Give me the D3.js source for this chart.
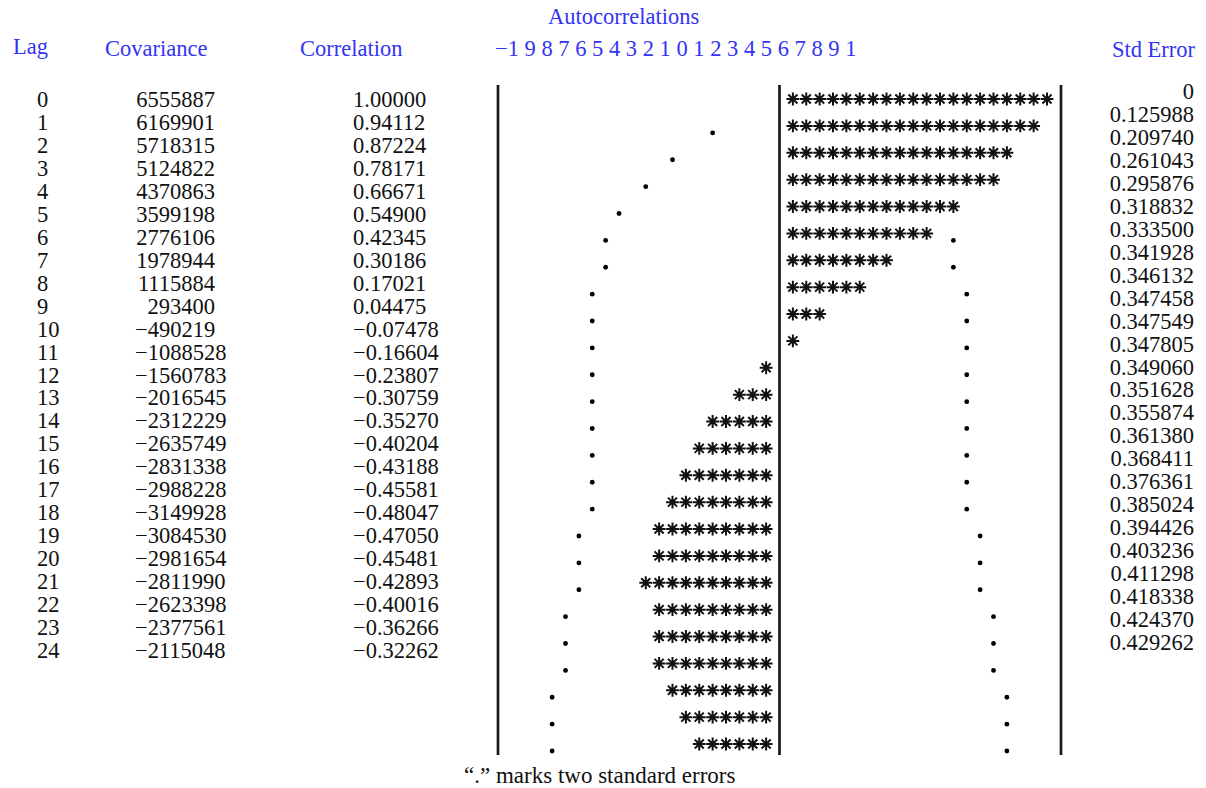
<!DOCTYPE html>
<meta charset="utf-8">
<html>
    <head>
        <style>
            html, body {
                margin: 0;
                padding: 0;
                background: #fff;
            }

            svg text {
                font-family: "Liberation Serif", "Times New Roman", serif;
                font-size: 22.5px;
                fill: #111;
            }

            svg text.head {
                fill: #3333f2;
            }

            .rule {
                stroke: #1a1a1a;
                stroke-width: 2.7;
            }

            .star {
                fill: none;
                stroke: #111;
                stroke-width: 2;
            }

            .dot {
                fill: #000;
            }
        </style>
    </head>
    <body>
        <svg width="1206" height="788"></svg>

        <script src="https://cdn.jsdelivr.net/npm/d3@7"></script>
        <script>
            var lags = [0, 1, 2, 3, 4, 5, 6, 7, 8, 9, 10, 11, 12, 13, 14, 15, 16, 17, 18, 19, 20, 21, 22, 23, 24];
            var covariance = [6555887, 6169901, 5718315, 5124822, 4370863, 3599198, 2776106, 1978944, 1115884, 293400,
                -490219, -1088528, -1560783, -2016545, -2312229, -2635749, -2831338, -2988228, -3149928, -3084530,
                -2981654, -2811990, -2623398, -2377561, -2115048];
            var correlation = [1.00000, 0.94112, 0.87224, 0.78171, 0.66671, 0.54900, 0.42345, 0.30186, 0.17021, 0.04475,
                -0.07478, -0.16604, -0.23807, -0.30759, -0.35270, -0.40204, -0.43188, -0.45581, -0.48047, -0.47050,
                -0.45481, -0.42893, -0.40016, -0.36266, -0.32262];
            var stdError = [0, 0.125988, 0.209740, 0.261043, 0.295876, 0.318832, 0.333500, 0.341928, 0.346132, 0.347458,
                0.347549, 0.347805, 0.349060, 0.351628, 0.355874, 0.361380, 0.368411, 0.376361, 0.385024, 0.394426,
                0.403236, 0.411298, 0.418338, 0.424370, 0.429262];
            var scaleLabels = ["\u22121", "9", "8", "7", "6", "5", "4", "3", "2", "1", "0",
                "1", "2", "3", "4", "5", "6", "7", "8", "9", "1"];

            var svg = d3.select("svg");

            // table rows and the plot rows are not on the same pitch in the original
            var yTable = d3.scaleLinear().domain([0, 24]).range([99, 650]);
            var yPlot = d3.scaleLinear().domain([0, 24]).range([99, 744]);

            // frame lines at -1, 0, 1 and star cells (20 per side)
            var xFrame = d3.scaleLinear().domain([-1, 1]).range([498, 1061]);
            var xCell = d3.scaleLinear().domain([-1, 1]).range([512, 1047]);

            var fmtCorr = d3.format(".5f"),
                fmtSe = d3.format(".6f"),
                fmtCov = d3.format("d");

            // headers
            var heads = svg.append("g");
            heads.append("text").attr("class", "head").attr("x", 548).attr("y", 24).text("Autocorrelations");
            heads.append("text").attr("class", "head").attr("x", 495).attr("y", 56).text(scaleLabels.join(" "));
            heads.append("text").attr("class", "head").attr("x", 13).attr("y", 54).text("Lag");
            heads.append("text").attr("class", "head").attr("x", 105).attr("y", 56).text("Covariance");
            heads.append("text").attr("class", "head").attr("x", 300).attr("y", 56).text("Correlation");
            heads.append("text").attr("class", "head").attr("x", 1195).attr("y", 57)
                .attr("text-anchor", "end").text("Std Error");

            // table
            var rows = svg.append("g").selectAll("g")
                .data(lags)
                .enter()
                    .append("g")
                    .attr("transform", function (d) { return "translate(0," + (yTable(d) + 8) + ")"; });

            rows.append("text").attr("x", 37).text(function (d) { return d; });

            rows.append("text")
                .attr("x", function (d) { return covariance[d] < 0 ? 135 : 215; })
                .attr("text-anchor", function (d) { return covariance[d] < 0 ? "start" : "end"; })
                .text(function (d) { return fmtCov(covariance[d]); });

            rows.append("text")
                .attr("x", 353)
                .text(function (d) { return fmtCorr(correlation[d]); });

            svg.append("g").selectAll("text")
                .data(lags)
                .enter()
                    .append("text")
                    .attr("x", 1194)
                    .attr("y", function (d) { return yTable(d); })
                    .attr("text-anchor", "end")
                    .text(function (d) { return stdError[d] === 0 ? "0" : fmtSe(stdError[d]); });

            // frame
            svg.append("g").selectAll("line")
                .data([-1, 0, 1])
                .enter()
                    .append("line")
                    .attr("class", "rule")
                    .attr("x1", xFrame).attr("x2", xFrame)
                    .attr("y1", 85).attr("y2", 755);

            // eight-spoke asterisk
            var asterisk = {
                draw: function (ctx, size) {
                    var r = Math.sqrt(size) / 2;
                    for (var a = 0; a < 4; a++) {
                        var t = a * Math.PI / 4;
                        ctx.moveTo(r * Math.cos(t), r * Math.sin(t));
                        ctx.lineTo(-r * Math.cos(t), -r * Math.sin(t));
                    }
                }
            };
            var starPath = d3.symbol().type(asterisk).size(165)();

            var stars = [];
            lags.forEach(function (lag) {
                var r = correlation[lag],
                    n = Math.round(Math.abs(r) * 20),
                    s = r < 0 ? -1 : 1;
                for (var k = 1; k <= n; k++) stars.push({ lag: lag, v: s * k / 20 });
            });

            svg.append("g").selectAll("path")
                .data(stars)
                .enter()
                    .append("path")
                    .attr("class", "star")
                    .attr("d", starPath)
                    .attr("transform", function (d) {
                        return "translate(" + xCell(d.v) + "," + yPlot(d.lag) + ")";
                    });

            // two standard error marks, hidden where the bar covers them
            var dots = [];
            lags.forEach(function (lag) {
                if (stdError[lag] === 0) return;
                var m = Math.round(2 * stdError[lag] * 20),
                    r = correlation[lag],
                    n = Math.round(Math.abs(r) * 20);
                [-1, 1].forEach(function (s) {
                    var covered = (r < 0 ? -1 : 1) === s && n >= m;
                    if (!covered) dots.push({ lag: lag, v: s * m / 20 });
                });
            });

            svg.append("g").selectAll("circle")
                .data(dots)
                .enter()
                    .append("circle")
                    .attr("class", "dot")
                    .attr("r", 2.4)
                    .attr("cx", function (d) { return xCell(d.v); })
                    .attr("cy", function (d) { return yPlot(d.lag) + 7; });

            svg.append("text")
                .attr("x", 464)
                .attr("y", 783)
                .style("font-size", "23px")
                .text("\u201c.\u201d marks two standard errors");
        </script>
    </body>
</html>
